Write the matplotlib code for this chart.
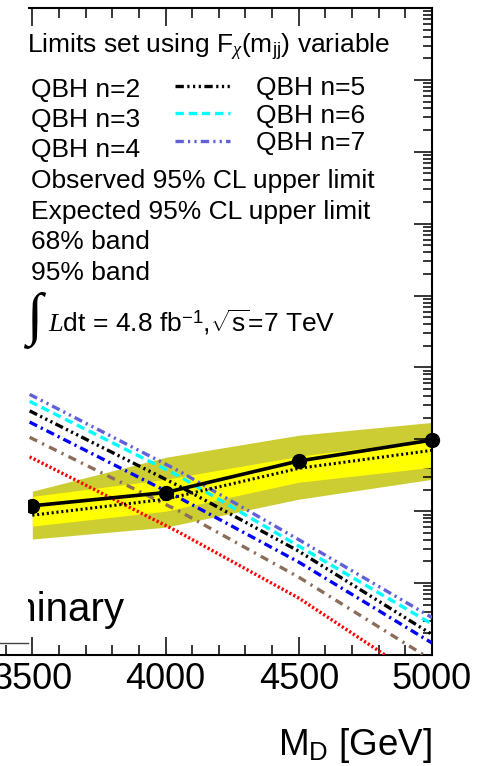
import matplotlib
matplotlib.use("Agg")
import matplotlib.pyplot as plt
from matplotlib.lines import Line2D
from matplotlib.patches import Rectangle
from matplotlib.ticker import MultipleLocator, LogLocator, NullFormatter

plt.rcParams["font.family"] = ["Liberation Sans", "DejaVu Sans"]
plt.rcParams["mathtext.fontset"] = "custom"
plt.rcParams["mathtext.rm"] = "Liberation Sans"
plt.rcParams["mathtext.it"] = "Liberation Serif:italic"
plt.rcParams["mathtext.sf"] = "Liberation Sans"
plt.rcParams["lines.scale_dashes"] = False

W, H = 486, 766

mass = [3500, 4000, 4500, 5000]
observed = [0.0119, 0.0182, 0.0500, 0.0977]
expected = [0.0088, 0.0147, 0.0395, 0.0703]
band68_lo = [0.0062, 0.0100, 0.0253, 0.0408]
band68_hi = [0.0161, 0.0278, 0.0581, 0.100]
band95_lo = [0.0041, 0.0060, 0.0147, 0.0278]
band95_hi = [0.0190, 0.0562, 0.114, 0.172]

theory_mass = [3490, 4050, 4500, 5000]
qbh_n2 = [0.0571, 0.00511, 6.19e-4, 3.71e-5]
qbh_n3 = [0.1067, 0.01009, 0.00121, 8.5e-5]
qbh_n4 = [0.1738, 0.01548, 0.00196, 1.47e-4]
qbh_n5 = [0.2489, 0.02244, 0.00278, 1.93e-4]
qbh_n6 = [0.3373, 0.0309, 0.00327, 2.70e-4]
qbh_n7 = [0.4217, 0.0363, 0.00402, 3.32e-4]

x_ticks = [3500, 4000, 4500, 5000]

qbh_styles = [
    ("QBH n=2", qbh_n2, "#ff0000", (0, (1.6, 1.6))),
    ("QBH n=3", qbh_n3, "#8c6d5a", (0, (6, 4, 1.6, 4))),
    ("QBH n=4", qbh_n4, "#0000ff", (0, (6, 3, 1.6, 3))),
    ("QBH n=5", qbh_n5, "#000000", (0, (6, 2.5, 1.6, 2.5, 1.6, 2.5, 1.6, 2.5))),
    ("QBH n=6", qbh_n6, "#00ffff", (0, (6, 3.5))),
    ("QBH n=7", qbh_n7, "#6060d8", (0, (6, 3, 1.6, 3, 1.6, 3))),
]


def fx(px):
    return px / W


def fy(py):
    return 1 - py / H


fig = plt.figure(figsize=(W / 100, H / 100), dpi=100)
ax = fig.add_axes([0, fy(655), fx(432), (655 - 8) / H])

ax.fill_between(mass, band95_lo, band95_hi, color="#cccc33", linewidth=0, zorder=1)
ax.fill_between(mass, band68_lo, band68_hi, color="#ffff00", linewidth=0, zorder=2)

for label, values, color, dash in qbh_styles:
    ax.plot(theory_mass, values, color=color, linestyle=dash, linewidth=2.4, zorder=3)

ax.plot(mass, expected, color="black", linestyle=(0, (1.5, 2.0)), linewidth=2.2, zorder=4)
ax.plot(mass, observed, color="black", linewidth=2.6, marker="o", markersize=10,
        zorder=5, clip_on=False)

ax.set_yscale("log")
ax.set_xlim(3500 - 32.3 * 500 / 133.2, 5000)
ax.set_ylim(1e-4, 1e5)

ax.set_xticks(x_ticks)
ax.set_xticklabels([str(t) for t in x_ticks], fontsize=26)
ax.xaxis.set_minor_locator(MultipleLocator(100))
ax.yaxis.set_major_locator(LogLocator(base=10, numticks=20))
ax.yaxis.set_minor_locator(LogLocator(base=10, subs=range(2, 10), numticks=20))
ax.yaxis.set_minor_formatter(NullFormatter())

ax.tick_params(axis="x", which="both", direction="in", top=True, bottom=True, pad=5)
ax.tick_params(axis="x", which="major", length=13, width=1.1)
ax.tick_params(axis="x", which="minor", length=7, width=1.1)
ax.tick_params(axis="y", which="both", direction="in", left=False, right=True,
               labelleft=False, labelright=False)
ax.tick_params(axis="y", which="major", length=13, width=1.1)
ax.tick_params(axis="y", which="minor", length=6.5, width=1.1)

ax.spines["left"].set_visible(False)
for side in ["top", "bottom", "right"]:
    ax.spines[side].set_linewidth(1.5)

# the left part of the original is blanked out
fig.add_artist(Rectangle((0, fy(643)), fx(28), 1 - fy(643), transform=fig.transFigure,
                         facecolor="white", edgecolor="none", zorder=10))
fig.add_artist(Line2D([0, fx(28)], [fy(643), fy(643)], transform=fig.transFigure,
                      color="#444444", linewidth=1.0, zorder=11))

fig.text(fx(124), fy(621), "ATLAS Preliminary", fontsize=29, ha="right", va="baseline",
         zorder=9)

fs = 19
fig.text(fx(27), fy(53), r"Limits set using F$_{\chi}$(m$_{\mathrm{jj}}$) variable",
         fontsize=fs, va="baseline", zorder=12)

left_rows = ["QBH n=2", "QBH n=3", "QBH n=4",
             "Observed 95% CL upper limit", "Expected 95% CL upper limit",
             "68% band", "95% band"]
for i, txt in enumerate(left_rows):
    fig.text(fx(31), fy(96.5 + 30.5 * i), txt, fontsize=fs, va="baseline", zorder=12)

for i, (label, values, color, dash) in enumerate(qbh_styles[3:]):
    base = 95 + 27.5 * i
    fig.text(fx(256), fy(base), label, fontsize=fs, va="baseline", zorder=12)
    fig.add_artist(Line2D([fx(175), fx(230)], [fy(base - 9.5), fy(base - 9.5)],
                          transform=fig.transFigure, color=color, linestyle=dash,
                          linewidth=2.4, zorder=12))

fig.text(fx(26), fy(320), "\u222b", fontsize=42, family="Liberation Serif",
         va="center", ha="left", zorder=12)
fig.text(fx(48), fy(332), r"$\mathit{L}$dt = 4.8 fb$^{-1}$,$\sqrt{\mathrm{s}}$=7 TeV",
         fontsize=fs, va="baseline", zorder=12)

fig.text(fx(432), fy(755), r"M$_{\mathrm{D}}$ [GeV]", fontsize=26.5, ha="right",
         va="baseline")

fig.savefig("out.png", dpi=100)
